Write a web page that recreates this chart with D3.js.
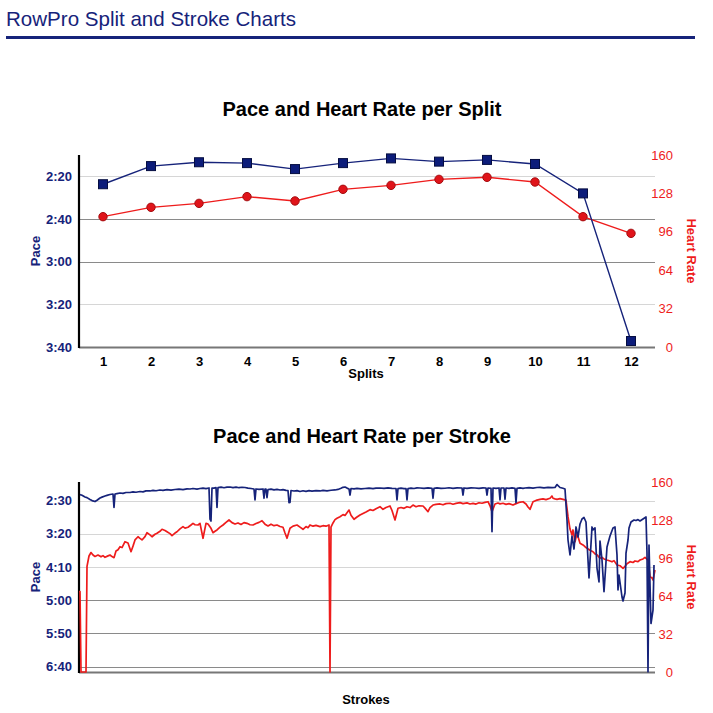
<!DOCTYPE html>
<html><head><meta charset="utf-8">
<script src="https://cdn.jsdelivr.net/npm/d3@7/dist/d3.min.js"></script>
<style>
html,body{margin:0;padding:0;background:#fff;}
svg{display:block;font-family:"Liberation Sans",Arial,Helvetica,sans-serif;}
</style></head>
<body>
<svg id="c" width="713" height="713"></svg>
<script>
// ---------- data ----------
const pageTitle = "RowPro Split and Stroke Charts";
const splitTitle = "Pace and Heart Rate per Split";
const strokeTitle = "Pace and Heart Rate per Stroke";
const splits = [1,2,3,4,5,6,7,8,9,10,11,12];
const splitPace = [143.7,135.2,133.4,133.8,136.6,133.8,131.6,133.1,132.3,134.2,148.0,217.2]; // seconds / 500m
const splitHR = [108.6,116.4,119.7,125.3,121.7,131.4,134.7,139.7,141.4,137.5,108.6,94.7];
const splitPaceTicks = [140,160,180,200,220];
const splitHRTicks = [0,32,64,96,128,160];
const strokePaceTicks = [150,200,250,300,350,400];
const strokeHRTicks = [0,32,64,96,128,160];
const strokeCount = 577;

// [stroke, pace seconds]
const strokePace = [[1,141.1],[3,142],[6,144.6],[8,145.5],[11,148.3],[13,150],[16,151.4],[18,149.5],[21,146.1],[23,144.8],[26,143.1],[28,142.2],[31,140.8],[34,140.1],[35,160.4],[36,140.1],[38,139.5],[41,138.6],[44,139.2],[47,137.8],[51,137.8],[54,136.9],[57,137.4],[61,136.3],[64,136.8],[67,135.4],[71,135.5],[74,134.6],[77,135.2],[81,134.0],[84,134.7],[88,133.6],[92,134.2],[96,133.3],[100,132.8],[104,133.5],[108,132.4],[111,132.5],[114,131.8],[118,132.6],[121,131.8],[124,131.2],[127,131.9],[130,131.0],[131,178.0],[132,180.7],[133,131.0],[135,131.2],[137,130.3],[138,160.4],[139,130.3],[142,129.8],[145,130.6],[148,129.6],[151,129.5],[154,130.4],[157,129.8],[160,130.6],[163,129.9],[166,130.3],[169,131.2],[172,131.8],[175,132.5],[176,149.1],[177,132.5],[180,133.2],[184,132.5],[185,146.5],[186,132.5],[187,132.5],[188,145.6],[189,133.3],[192,132.8],[195,133.8],[198,133.1],[201,134.0],[204,133.4],[207,134.5],[209,134.8],[210,153.2],[211,152.9],[212,134.8],[215,135.6],[218,134.9],[221,136.3],[224,135.2],[227,136],[230,135.1],[233,135.8],[237,134.9],[241,135.5],[244,134.6],[248,135.3],[252,134.4],[256,134.0],[259,133.2],[262,131.5],[264,130],[266,129.5],[268,131.2],[270,132.5],[271,141.6],[272,131.8],[275,132.4],[278,131.6],[282,132.3],[286,131.8],[290,131.2],[294,131.9],[297,131.1],[301,131.0],[305,131.7],[309,130.9],[313,131.6],[317,131.8],[318,149.1],[319,131.8],[322,131.2],[325,131.9],[327,131.8],[328,149.1],[329,131.8],[332,131.1],[335,131.8],[338,130.8],[341,131.0],[345,131.7],[349,130.9],[353,131.4],[354,146.5],[355,131.4],[358,130.8],[362,131.6],[366,131.4],[370,130.7],[374,131.5],[378,130.9],[383,131.0],[384,141.6],[385,131.0],[388,131.7],[392,130.8],[396,131.0],[400,131.6],[404,130.8],[407,131.0],[408,141.6],[409,131.0],[412,131.5],[413,196.8],[414,131.0],[417,131.6],[420,131.0],[421,149.1],[422,131.0],[425,131.0],[426,148.0],[427,131.0],[430,131.6],[433,130.9],[436,131.4],[437,153.2],[438,131.4],[441,130.8],[444,131.5],[446,131.0],[450,130.4],[454,131.1],[458,130.3],[461,130.0],[465,130.8],[469,130.1],[473,130.6],[476,130.3],[478,125.8],[481,130.3],[484,131.4],[486,132.5],[488,179.2],[489,209.3],[491,231.9],[493,203.3],[495,222.9],[497,189.7],[499,204.8],[501,185.2],[503,177.7],[505,175.4],[507,182.2],[509,239.4],[510,266.5],[513,189.7],[514,194.2],[516,191.2],[518,251.5],[520,272.5],[521,210.8],[523,239.4],[525,287.0],[528,219.8],[531,203.3],[534,191.2],[536,189.7],[538,231.9],[539,284.6],[540,262.0],[543,295.1],[544,301.1],[546,289.1],[547,228.9],[549,209.3],[550,191.2],[552,182.2],[555,179.2],[557,180.0],[559,178.6],[561,180.7],[564,177.7],[567,174.7],[568,228.9],[569,407.6],[570,216.8],[572,335.0],[574,314.7],[575,246.9]];

// [stroke, heart rate]
const strokeHR = [[0,67.8],[1,67.8],[2,0],[7,0],[8,89],[10,97.7],[12,100.6],[14,98.5],[16,97.3],[19,98.5],[22,97],[24,98],[26,96.6],[29,97.8],[31,98.5],[33,97.2],[35,96.3],[37,101.9],[39,103],[41,105.5],[43,104.8],[46,109.7],[49,108.6],[52,101.3],[54,106],[56,111.2],[59,113.9],[61,112.5],[63,111.2],[66,114],[68,117.3],[71,115.5],[73,113.9],[76,116],[78,116.8],[81,118.5],[83,120.2],[86,119.2],[88,118.1],[91,116.5],[93,114.8],[96,117],[98,118.1],[101,120.5],[104,122.4],[106,121.2],[109,121.9],[112,123.8],[114,125.2],[116,124],[119,123.8],[121,125.2],[124,112.6],[127,125.2],[129,124.6],[132,121],[134,117.3],[136,118.5],[138,119.6],[141,122],[144,123.8],[147,126],[150,128.0],[153,125.8],[156,124.6],[159,125.5],[162,124.2],[165,125.8],[168,125.2],[171,124],[174,123.8],[177,125],[180,126],[183,127.4],[186,124.5],[189,123.0],[192,124.5],[195,123.2],[198,123.8],[201,122.5],[204,121.9],[206,117],[208,112.6],[211,121.0],[214,122.8],[218,123.8],[221,122],[224,120.2],[227,122.5],[229,121.5],[231,123.8],[234,122.8],[237,123.5],[241,122.4],[244,123.2],[247,122.8],[250,123.8],[251,0],[252,122.0],[254,125.5],[256,128.3],[258,129.5],[261,130.8],[264,132.5],[266,131.8],[268,134.1],[270,136.4],[272,132],[275,128.6],[278,130.5],[281,132.2],[284,133.5],[287,134.8],[291,136.7],[294,136],[297,137.5],[301,139.2],[304,137.0],[307,138.5],[311,139.8],[313,136],[316,128.0],[319,137.9],[322,138.5],[325,137.8],[328,139.2],[331,138.5],[334,140.6],[337,139.2],[340,140],[344,139.8],[346,138],[349,135.0],[351,138.5],[354,140.6],[357,141.2],[361,141.5],[364,140.8],[367,141.8],[371,142.1],[374,141.3],[377,142],[381,142.6],[384,141.8],[388,142.4],[391,141.5],[394,142],[397,141.4],[400,142.5],[403,142.1],[406,142.8],[409,143.4],[411,140],[413,135.0],[416,141.5],[419,142.3],[421,141.6],[424,142.1],[427,141.2],[430,141.8],[434,140.6],[437,141.8],[440,142.8],[444,143.4],[447,141.5],[449,139],[451,137.0],[454,143.4],[457,144.5],[461,145.4],[464,145.8],[467,145.2],[471,146.3],[473,148.2],[474,146.3],[476,145.8],[478,145.4],[481,146],[484,145.4],[487,144.8],[489,130.8],[491,120.4],[493,115.4],[494,119.6],[496,109.7],[498,116.8],[501,108.4],[504,107],[506,105.5],[508,104.2],[511,102.5],[514,101.3],[516,99.5],[518,98.8],[521,95.7],[523,96.5],[525,95.2],[528,94.3],[531,93.5],[533,92.8],[535,93.8],[538,90.1],[541,89.5],[544,87.3],[546,89],[548,91.2],[551,92.9],[554,92.2],[556,93.5],[559,93],[561,94.3],[564,95.2],[566,96.6],[569,94.3],[571,80.3],[573,79.2],[574,77.5],[576,85.9]];

// ---------- style ----------
const NAVY = "#16237a", RED = "#ee1c1c", LIGHT = "#d6d6d6", DARK = "#8a8a8a";
const fmtPace = s => Math.floor(s/60) + ":" + String(Math.round(s%60)).padStart(2,"0");

const svg = d3.select("#c");
svg.append("text").attr("x",6).attr("y",26).attr("font-size",21).attr("fill",NAVY)
  .attr("textLength",290).attr("lengthAdjust","spacingAndGlyphs").text(pageTitle);
svg.append("rect").attr("x",6).attr("y",36).attr("width",689).attr("height",3).attr("fill",NAVY);

function frame(g, top, bottom, title, titleY, paceScale, hrScale, paceTicks, hrTicks, gridStyles, xLabel, xLabelY){
  g.append("text").attr("x",362).attr("y",titleY).attr("text-anchor","middle")
    .attr("font-size",20).attr("font-weight","bold").attr("fill","#000").text(title);
  g.selectAll(null).data(paceTicks.filter((d,i)=>gridStyles[i])).enter().append("line")
    .attr("x1",79).attr("x2",655)
    .attr("y1",d=>Math.round(paceScale(d))+0.5).attr("y2",d=>Math.round(paceScale(d))+0.5)
    .attr("stroke",(d)=>gridStyles[paceTicks.indexOf(d)]).attr("stroke-width",1.2);
  const la = g.append("g").attr("transform","translate(79,0)")
    .call(d3.axisLeft(paceScale).tickValues(paceTicks).tickFormat(fmtPace).tickSize(0).tickPadding(7));
  la.select(".domain").remove();
  la.selectAll("text").attr("font-size",13).attr("font-weight","bold").attr("fill",NAVY)
    .attr("font-family","Liberation Sans, Arial, sans-serif");
  const ra = g.append("g").attr("transform","translate(655,0)")
    .call(d3.axisRight(hrScale).tickValues(hrTicks).tickSize(0));
  ra.select(".domain").remove();
  ra.selectAll("text").attr("x",18).attr("text-anchor","end").attr("font-size",13).attr("font-weight","normal")
    .attr("fill",RED).attr("font-family","Liberation Sans, Arial, sans-serif");
  g.append("line").attr("x1",79).attr("x2",655).attr("y1",bottom+0.5).attr("y2",bottom+0.5)
    .attr("stroke","#777").attr("stroke-width",2);
  g.append("line").attr("x1",79).attr("x2",79).attr("y1",top).attr("y2",bottom+1)
    .attr("stroke","#000").attr("stroke-width",2.2);
  const mid = (top+bottom)/2;
  g.append("text").attr("transform",`translate(40,${mid}) rotate(-90)`).attr("text-anchor","middle")
    .attr("font-size",13).attr("font-weight","bold").attr("fill",NAVY).text("Pace");
  g.append("text").attr("transform",`translate(687,${mid}) rotate(90)`).attr("text-anchor","middle")
    .attr("font-size",13).attr("font-weight","bold").attr("fill",RED).text("Heart Rate");
  g.append("text").attr("x",366).attr("y",xLabelY).attr("text-anchor","middle")
    .attr("font-size",13).attr("font-weight","bold").attr("fill","#000").text(xLabel);
}

// ---------- split chart ----------
const g1 = svg.append("g");
const x1 = d3.scalePoint().domain(splits).range([79,655]).padding(0.5);
const p1 = d3.scaleLinear().domain([130,220]).range([155,347]);
const h1 = d3.scaleLinear().domain([0,160]).range([347,155]);
frame(g1,155,347,splitTitle,116,p1,h1,splitPaceTicks,splitHRTicks,[LIGHT,DARK,DARK,LIGHT,null],"Splits",378);
const xa = g1.append("g").attr("transform","translate(0,347)")
  .call(d3.axisBottom(x1).tickSize(0).tickPadding(10));
xa.select(".domain").remove();
xa.selectAll("text").attr("font-size",13).attr("font-weight","bold").attr("fill","#000")
  .attr("font-family","Liberation Sans, Arial, sans-serif");

g1.append("path").datum(splits).attr("fill","none").attr("stroke",RED).attr("stroke-width",1.4)
  .attr("d",d3.line().x(d=>x1(d)).y((d,i)=>h1(splitHR[i])));
g1.append("path").datum(splits).attr("fill","none").attr("stroke",NAVY).attr("stroke-width",1.4)
  .attr("d",d3.line().x(d=>x1(d)).y((d,i)=>p1(splitPace[i])));
g1.selectAll(null).data(splits).enter().append("circle")
  .attr("cx",d=>x1(d)).attr("cy",(d,i)=>h1(splitHR[i])).attr("r",4.2)
  .attr("fill","#e0141a").attr("stroke","#a50d10").attr("stroke-width",1);
g1.selectAll(null).data(splits).enter().append("rect")
  .attr("x",d=>x1(d)-4.5).attr("y",(d,i)=>p1(splitPace[i])-4.5).attr("width",9).attr("height",9)
  .attr("fill","#0c1c7a").attr("stroke","#050d40").attr("stroke-width",1);

// ---------- stroke chart ----------
const g2 = svg.append("g");
const x2 = d3.scaleLinear().domain([0,strokeCount-1]).range([79,655]);
const p2 = d3.scaleLinear().domain([122,408]).range([482,672]);
const h2 = d3.scaleLinear().domain([0,160]).range([672,482]);
frame(g2,482,672,strokeTitle,443,p2,h2,strokePaceTicks,strokeHRTicks,[LIGHT,LIGHT,LIGHT,DARK,DARK,DARK],"Strokes",704);

g2.append("path").datum(strokeHR).attr("fill","none").attr("stroke",RED).attr("stroke-width",1.7)
  .attr("stroke-linejoin","round")
  .attr("d",d3.line().x(d=>x2(d[0])).y(d=>h2(d[1])));
g2.append("path").datum(strokePace).attr("fill","none").attr("stroke",NAVY).attr("stroke-width",1.7)
  .attr("stroke-linejoin","round")
  .attr("d",d3.line().x(d=>x2(d[0])).y(d=>p2(d[1])));
</script>
</body></html>
